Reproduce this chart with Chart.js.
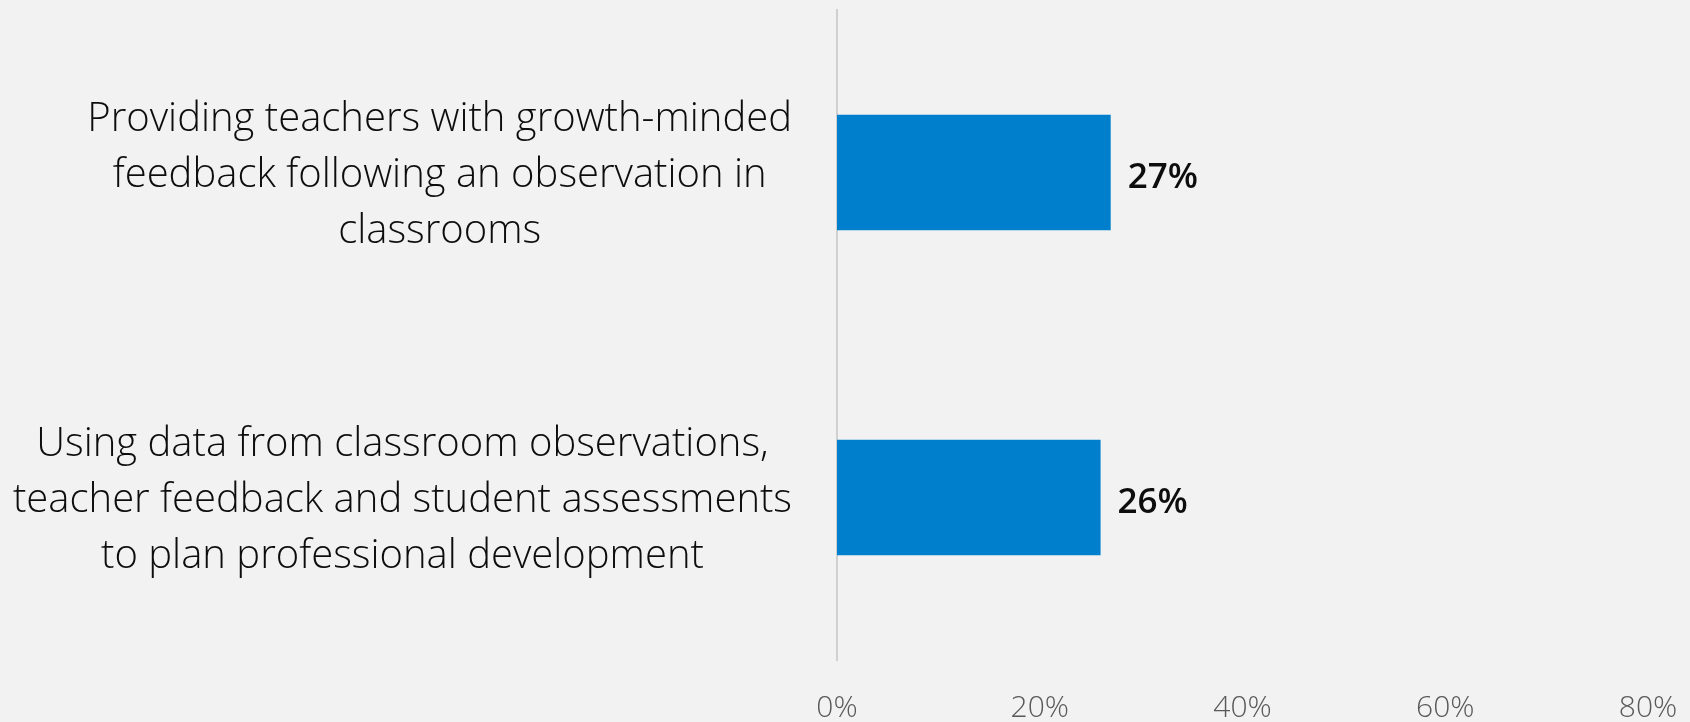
<!DOCTYPE html>
<html>
<head>
<meta charset="utf-8">
<script src="https://cdn.jsdelivr.net/npm/chart.js@4.4.1/dist/chart.umd.min.js"></script>
<style>
  html, body { margin: 0; padding: 0; background: #f2f2f2; }
  canvas { display: block; }
</style>
</head>
<body>
<canvas id="chart" width="1690" height="722"></canvas>
<script>
// Survey items, each split into the lines shown beside its bar
const categories = [
  ['Providing teachers with growth-minded', 'feedback following an observation in', 'classrooms'],
  ['Using data from classroom observations,', 'teacher feedback and student assessments', 'to plan professional development']
];
// Share of respondents, in percent
const shares = [27, 26];
// Values marked along the bottom axis
const tickValues = [0, 20, 40, 60, 80];

const FAMILY = '"Open Sans", "Noto Sans", sans-serif';
const LABEL_FONT = '300 40px ' + FAMILY;
const LABEL_LINE = 56;
const VALUE_FONT = '600 35px ' + FAMILY;

// Multi-line category labels: each block sits right-aligned against the axis,
// with its lines centred inside the block.
const categoryLabels = {
  id: 'categoryLabels',
  afterDraw(chart) {
    const ctx = chart.ctx;
    const yScale = chart.scales.y;
    const rightEdge = chart.chartArea.left - 45;
    ctx.save();
    ctx.font = LABEL_FONT;
    ctx.fillStyle = '#0d0d0d';
    ctx.textAlign = 'center';
    ctx.textBaseline = 'alphabetic';
    categories.forEach((lines, i) => {
      const widest = Math.max(...lines.map(l => ctx.measureText(l).width));
      const cx = rightEdge - widest / 2;
      const cy = yScale.getPixelForValue(i);
      lines.forEach((line, k) => {
        const off = (k - (lines.length - 1) / 2) * LABEL_LINE;
        ctx.fillText(line, cx, cy + off + 14.5);
      });
    });
    ctx.restore();
  }
};

// Percentage written just past the end of each bar
const valueLabels = {
  id: 'valueLabels',
  afterDatasetsDraw(chart) {
    const ctx = chart.ctx;
    const meta = chart.getDatasetMeta(0);
    ctx.save();
    ctx.font = VALUE_FONT;
    ctx.fillStyle = '#0d0d0d';
    ctx.textAlign = 'left';
    ctx.textBaseline = 'alphabetic';
    meta.data.forEach((bar, i) => {
      ctx.fillText(shares[i] + '%', bar.x + 17, bar.y + 15);
    });
    ctx.restore();
  }
};

function draw() {
  new Chart(document.getElementById('chart'), {
    type: 'bar',
    data: {
      labels: categories.map(c => c.join(' ')),
      datasets: [{
        data: shares,
        backgroundColor: '#0080cc',
        borderWidth: 0,
        barPercentage: 0.355,
        categoryPercentage: 1
      }]
    },
    options: {
      indexAxis: 'y',
      responsive: false,
      animation: false,
      devicePixelRatio: 1,
      layout: { padding: { top: 10, right: 42, bottom: 0, left: 0 } },
      plugins: {
        legend: { display: false },
        tooltip: { enabled: false }
      },
      scales: {
        x: {
          type: 'linear',
          min: 0,
          max: 80,
          grid: { display: false, drawTicks: false },
          border: { display: false },
          afterBuildTicks: s => { s.ticks = tickValues.map(v => ({ value: v })); },
          ticks: {
            callback: v => v + '%',
            autoSkip: false,
            maxRotation: 0,
            padding: 30,
            color: '#595959',
            font: { family: FAMILY, size: 30, weight: '300' }
          },
          afterFit: s => {
            s.height = 62;
            s.paddingLeft = 0;
            s.paddingRight = 0;
          }
        },
        y: {
          type: 'category',
          offset: true,
          grid: { display: false, drawTicks: false },
          border: { display: true, color: '#d0d0d0', width: 2 },
          ticks: { display: false },
          afterFit: s => { s.width = 837; }
        }
      }
    },
    plugins: [categoryLabels, valueLabels]
  });
}

Promise.all([
  document.fonts.load(LABEL_FONT),
  document.fonts.load(VALUE_FONT),
  document.fonts.load('300 30px ' + FAMILY)
]).then(draw, draw);
</script>
</body>
</html>
